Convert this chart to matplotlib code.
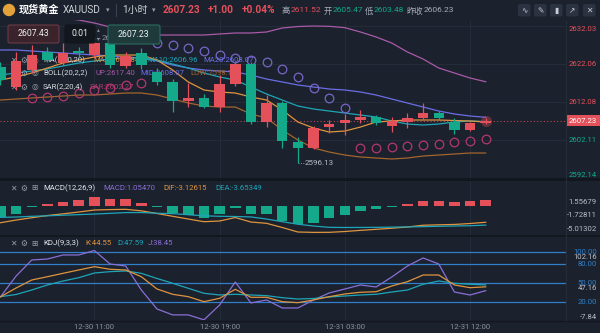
import numpy as np
import matplotlib
matplotlib.use('Agg')
import matplotlib.pyplot as plt
from matplotlib.patches import FancyBboxPatch, Circle
from matplotlib.lines import Line2D
from matplotlib.transforms import Affine2D, blended_transform_factory

# colours
BG = '#1b212d'
GRID = '#252c39'
RED = '#e5515b'
GREEN = '#14a98b'
ORANGE = '#df943f'
TEAL = '#1fa5b8'
BLUE = '#6a6ee6'
PINK = '#a85aa8'
BROWN = '#a3652f'
SAR_UP = '#7766c6'
SAR_DN = '#b2386f'
PURPLE = '#8a6fd6'
LVL = '#2f80c8'
TXT = '#b9bec7'
DIM = '#8d939c'

plt.rcParams['font.family'] = ['Roboto', 'Noto Sans CJK SC', 'DejaVu Sans']
plt.rcParams['axes.unicode_minus'] = False
SYM = ['DejaVu Sans']

# ---- data (1h candles, 12-30 ~05:00 .. 12-31 13:00) ----
time_labels = ['12-30 11:00', '12-30 19:00', '12-31 03:00', '12-31 12:00']
time_idx = [6, 14, 22, 30]

opens = [2621.27, 2616.02, 2620.49, 2625.21, 2622.32, 2625.47, 2624.42, 2627.57,
         2621.54, 2624.95, 2619.96, 2617.34, 2612.35, 2613.14, 2610.77, 2616.81,
         2622.06, 2606.84, 2611.82, 2601.59, 2600.01, 2605.52, 2606.57, 2607.36,
         2608.15, 2605.79, 2606.84, 2607.89, 2609.20, 2606.84, 2604.74, 2606.57]
closes = [2617.86, 2622.85, 2624.42, 2623.11, 2624.95, 2624.95, 2627.57, 2621.80,
          2624.16, 2621.80, 2617.34, 2612.35, 2613.14, 2610.77, 2616.81, 2622.06,
          2606.84, 2611.82, 2601.85, 2600.01, 2605.26, 2606.31, 2607.36, 2608.15,
          2606.57, 2607.10, 2607.89, 2609.20, 2607.89, 2604.74, 2606.57, 2607.23]
highs = [2622.59, 2625.21, 2627.05, 2626.52, 2627.57, 2626.52, 2628.84, 2628.36,
         2625.21, 2626.26, 2621.01, 2618.12, 2617.07, 2614.20, 2619.17, 2622.59,
         2622.59, 2613.92, 2612.35, 2602.90, 2605.79, 2607.36, 2608.94, 2609.99,
         2608.67, 2608.15, 2609.20, 2611.82, 2609.72, 2607.89, 2606.84, 2607.89]
lows = [2616.55, 2615.24, 2619.70, 2622.59, 2621.80, 2623.64, 2623.90, 2621.01,
        2621.01, 2620.75, 2616.55, 2609.46, 2610.77, 2610.51, 2609.46, 2616.29,
        2606.31, 2605.52, 2600.01, 2596.13, 2599.75, 2603.95, 2603.42, 2606.57,
        2606.05, 2604.21, 2605.26, 2607.36, 2607.36, 2603.69, 2604.47, 2606.31]

ma5 = [2617.86, 2618.65, 2619.70, 2621.01, 2622.32, 2623.11, 2623.90, 2624.42,
       2624.42, 2624.42, 2623.11, 2620.49, 2617.34, 2615.24, 2614.71, 2614.45,
       2613.40, 2612.61, 2609.99, 2606.84, 2605.26, 2604.21, 2604.47, 2605.52,
       2606.84, 2607.10, 2607.36, 2607.36, 2607.36, 2607.23, 2607.10, 2606.84]
ma10 = [2619.17, 2619.70, 2620.22, 2620.75, 2621.54, 2622.32, 2622.85, 2623.37,
        2623.64, 2623.64, 2623.11, 2622.06, 2621.01, 2619.70, 2618.65, 2617.86,
        2616.02, 2614.19, 2612.61, 2611.04, 2610.25, 2609.72, 2609.20, 2608.67,
        2608.15, 2607.10, 2606.31, 2606.05, 2606.31, 2606.84, 2607.10, 2606.96]
ma20 = [2625.74, 2625.74, 2625.47, 2625.21, 2624.95, 2624.69, 2624.42, 2624.16,
        2623.90, 2623.64, 2622.85, 2621.80, 2621.01, 2620.49, 2620.22, 2619.96,
        2619.17, 2618.12, 2617.34, 2616.55, 2616.02, 2615.50, 2615.24, 2614.71,
        2613.92, 2612.87, 2611.82, 2610.77, 2609.72, 2608.94, 2608.41, 2608.07]
boll_up = [2636.76, 2635.97, 2635.19, 2634.66, 2634.14, 2633.61, 2632.82, 2631.77,
           2630.46, 2629.94, 2629.67, 2629.67, 2629.67, 2629.67, 2629.94, 2630.20,
           2630.20, 2630.46, 2631.51, 2631.90, 2632.03, 2631.95, 2631.60, 2630.46,
           2629.15, 2627.57, 2625.21, 2623.37, 2621.01, 2619.70, 2618.39, 2617.40]
boll_low = [2612.61, 2612.87, 2613.14, 2613.40, 2613.66, 2613.92, 2613.92, 2614.19,
            2614.45, 2614.45, 2613.92, 2612.87, 2611.82, 2611.04, 2610.77, 2610.77,
            2608.94, 2607.89, 2604.74, 2602.11, 2600.01, 2598.96, 2598.17, 2597.65,
            2597.39, 2597.12, 2597.39, 2597.91, 2598.17, 2598.44, 2598.70, 2598.70]
nan = np.nan
sar = [nan, nan, 2613.14, 2613.40, 2613.66, 2614.45, 2615.24, 2615.76,
       2616.55, 2617.07, 2627.57, 2627.05, 2626.26, 2625.47, 2624.42, 2623.64,
       2623.11, 2622.59, 2620.75, 2618.65, 2615.76, 2613.14, 2610.51, 2600.01,
       2600.01, 2600.27, 2600.54, 2600.80, 2601.06, 2601.59, 2601.85, 2602.27]

macd_hist = [-2.11, -1.49, -0.25, 0.19, 0.62, 1.00, 1.557, 1.24, 1.18, 0.50, -0.19,
             -1.31, -1.68, -2.24, -1.62, -0.37, -1.62, -1.62, -2.86, -3.48, -3.17,
             -2.24, -1.74, -1.06, -0.56, -0.25, 0.25, 0.90, 0.93, 0.70, 0.90, 1.0547]
dif = [-3.21, -2.71, -2.28, -1.87, -1.55, -1.21, -0.84, -0.76, -0.71, -0.99, -1.49,
       -2.01, -2.52, -3.02, -2.89, -2.24, -3.08, -3.32, -4.10, -4.94, -5.01, -5.00,
       -4.85, -4.63, -4.44, -4.24, -4.01, -3.68, -3.60, -3.53, -3.36, -3.12615]
dea = [-2.20, -2.15, -2.01, -1.92, -1.81, -1.70, -1.59, -1.46, -1.32, -1.31, -1.44,
       -1.51, -1.72, -1.92, -2.01, -2.05, -2.13, -2.52, -3.02, -3.49, -3.82, -4.07,
       -4.10, -4.09, -4.07, -4.03, -3.99, -3.94, -3.88, -3.82, -3.77, -3.65349]

k_line = [28.7, 42.7, 55.4, 60.6, 66.0, 71.3, 76.5, 72.4, 71.3, 60.6, 41.1, 32.7,
          28.9, 21.0, 26.3, 40.6, 27.9, 27.9, 21.0, 19.4, 23.7, 28.9, 33.2, 35.9,
          36.8, 45.9, 52.7, 63.3, 63.3, 47.5, 43.2, 44.55]
d_line = [28.9, 32.4, 39.5, 47.5, 53.8, 59.0, 66.5, 68.6, 69.7, 66.0, 57.8, 50.2,
          42.2, 34.3, 31.6, 32.7, 31.6, 30.5, 27.3, 25.2, 26.0, 28.4, 30.0, 31.6,
          32.7, 36.3, 39.5, 48.6, 53.8, 50.2, 48.6, 47.59]
j_line = [28.7, 61.7, 87.1, 88.7, 95.1, 95.1, 102.16, 80.8, 77.6, 39.5, 9.4, 0.0,
          0.0, -7.84, 15.7, 52.2, 18.9, 23.7, 11.0, 11.0, 23.7, 34.8, 41.1, 47.5,
          44.3, 60.2, 77.6, 90.3, 80.8, 36.3, 31.6, 38.45]

price_ticks = [2632.03, 2622.06, 2612.08, 2602.11, 2592.14]
last_price = 2607.23
macd_ticks = [1.55679, -1.72811, -5.01302]
kdj_levels = [100, 80, 50, 20]
kdj_ticks = [102.16, 47.16, -7.84]

# ---- figure ----
W, H = 600, 333
fig = plt.figure(figsize=(6, 3.33), dpi=100, facecolor=BG)
px = Affine2D().scale(1 / W, -1 / H).translate(0, 1) + fig.transFigure

x = np.arange(len(opens))
opens, closes = np.array(opens), np.array(closes)
highs, lows = np.array(highs), np.array(lows)

ax = fig.add_axes([0, 155 / H, 566 / W, 158 / H])
ax_m = fig.add_axes([0, 98 / H, 566 / W, 55 / H])
ax_k = fig.add_axes([0, 13 / H, 566 / W, 84 / H])
for a in (ax, ax_m, ax_k):
    a.set_facecolor(BG)
    a.set_xlim(-0.03, 36.13)
    for s in a.spines.values():
        s.set_visible(False)
    a.set_xticks([])
    a.set_yticks([])
    for t in time_idx:
        a.axvline(t, color=GRID, lw=0.8, zorder=0)


def right_labels(a, vals, texts, colors, vas, dys=None):
    # labels right-aligned at x=597px; dys = extra downward shift in pixels
    if dys is None:
        dys = [0] * len(vals)
    for v, s, c, va, dy in zip(vals, texts, colors, vas, dys):
        tr = blended_transform_factory(a.transAxes, a.transData) + Affine2D().translate(0, -dy)
        a.text(597 / 566, v, s, transform=tr, ha='right', va=va, color=c,
               fontsize=5.6, clip_on=False)


# main price panel
ax.set_ylim(2592.14, 2633.61)
for v in price_ticks:
    ax.axhline(v, color=GRID, lw=0.8, zorder=0)
col = np.where(closes >= opens, RED, GREEN)
ax.vlines(x, lows, highs, colors=col, lw=0.9, zorder=5)
body_lo = np.minimum(opens, closes)
body_h = np.maximum(np.abs(closes - opens), 0.25)
ax.bar(x, body_h, bottom=body_lo, width=0.67, color=col, zorder=6)

ax.plot(x, boll_up, color=PINK, lw=0.9, zorder=3)
ax.plot(x, boll_low, color=BROWN, lw=0.9, zorder=3)
ax.plot(x, ma20, color=BLUE, lw=0.9, zorder=3)
ax.plot(x, ma10, color=TEAL, lw=0.9, zorder=3)
ax.plot(x, ma5, color=ORANGE, lw=0.9, zorder=3)

sar = np.array(sar)
above = sar > closes
below = sar < closes
ax.plot(x[above], sar[above], 'o', ms=6.2, mfc='none', mec=SAR_UP, mew=0.9, zorder=4)
ax.plot(x[below], sar[below], 'o', ms=6.2, mfc='none', mec=SAR_DN, mew=0.9, zorder=4)

ax.axhline(last_price, color=RED, lw=0.8, ls=(0, (1, 2)), alpha=0.8, zorder=2)
ax.plot(x[-1], closes[-1], 'o', ms=8, color=RED, alpha=0.35, mec='none', zorder=7)

# high / low markers
hi = int(np.argmax(highs))
lo = int(np.argmin(lows))
ax.plot([hi, hi + 0.4], [highs[hi]] * 2, color=DIM, lw=0.7, ls=(0, (1, 1.5)), zorder=2)
ax.text(hi + 0.45, highs[hi], f'{highs[hi]:.2f}', color=DIM, fontsize=5.8, va='center', zorder=2)
ax.plot([lo, lo + 0.4], [lows[lo]] * 2, color=DIM, lw=0.7, ls=(0, (1, 1.5)), zorder=2)
ax.text(lo + 0.45, lows[lo], f'{lows[lo]:.2f}', color=TXT, fontsize=5.8, va='center', zorder=2)

pcol = [RED if v > last_price else GREEN for v in price_ticks]
right_labels(ax, price_ticks, [f'{v:.2f}' for v in price_ticks], pcol,
             ['top', 'center', 'center', 'center', 'bottom'])
ax.text(597 / 566, last_price, f'{last_price:.2f}', color='white', fontsize=5.6,
        ha='right', va='center', clip_on=False, zorder=8,
        transform=blended_transform_factory(ax.transAxes, ax.transData),
        bbox=dict(boxstyle='square,pad=0.35', fc=RED, ec='none'))

# legend rows on the main panel (under the candles)
def row(a, y, icons, items, z=4.5):
    for ix, g in zip([13, 24, 35], icons):
        a.text(ix, y, g, transform=px, color='#9aa0aa', fontsize=5.6, ha='center',
               va='center', family=SYM, zorder=z)
    for ix, s, c in items:
        a.text(ix, y, s, transform=px, color=c, fontsize=5.6, va='center', zorder=z)

row(ax, 60, ['✕', '⚙', '◎'], [(43, 'MA(5,10,20)', '#d6d9de'), (93, 'MA5:2606.84', ORANGE),
                               (147, 'MA10:2606.96', TEAL), (203, 'MA20:2608.07', BLUE)])
row(ax, 73, ['✕', '⚙', '◎'], [(43, 'BOLL(20,2,2)', '#d6d9de'), (95, 'UP:2617.40', PINK),
                               (140, 'MID:2608.07', BLUE), (190, 'LOW:2598.70', BROWN)])
row(ax, 87, ['✕', '⚙', '◎'], [(43, 'SAR(2,20,4)', '#d6d9de'), (90, 'SAR:2602.27', SAR_DN)])

# MACD panel
ax_m.set_ylim(-5.50, 4.76)
hcol = [RED if v >= 0 else GREEN for v in macd_hist]
ax_m.bar(x, macd_hist, width=0.67, color=hcol, zorder=3)
ax_m.plot(x, dif, color=ORANGE, lw=0.9, zorder=4)
ax_m.plot(x, dea, color=TEAL, lw=0.9, zorder=4)
right_labels(ax_m, macd_ticks, [f'{v:.5f}' for v in macd_ticks], [TXT] * 3,
             ['top', 'center', 'bottom'], [2, 0, 0])
row(ax_m, 188, ['✕', '⚙', '⊞'], [(43, 'MACD(12,26,9)', '#e6e8ec'), (103, 'MACD:1.05470', PURPLE),
                                  (163, 'DIF:-3.12615', ORANGE), (215, 'DEA:-3.65349', TEAL)])

# KDJ panel
ax_k.set_ylim(-8.1, 125.2)
for v in kdj_levels:
    ax_k.axhline(v, color=LVL, lw=0.9, zorder=1)
ax_k.plot(x, j_line, color=PURPLE, lw=0.9, zorder=3)
ax_k.plot(x, d_line, color=TEAL, lw=0.9, zorder=3)
ax_k.plot(x, k_line, color=ORANGE, lw=0.9, zorder=3)
right_labels(ax_k, kdj_ticks, [f'{v:.2f}' for v in kdj_ticks], [TXT] * 3,
             ['top', 'center', 'bottom'], [3, 3, 0])
right_labels(ax_k, kdj_levels, [f'{v:.2f}' for v in kdj_levels], [LVL] * 4, ['center'] * 4)
row(ax_k, 243, ['✕', '⚙', '⊞'], [(43, 'KDJ(9,3,3)', '#e6e8ec'), (85, 'K:44.55', ORANGE),
                                  (117, 'D:47.59', TEAL), (148, 'J:38.45', PURPLE)])
tr_k = blended_transform_factory(ax_k.transData, ax_k.transAxes)
for t, s in zip(time_idx, time_labels):
    ax_k.text(t, -0.08, s, transform=tr_k, color=DIM, fontsize=5.5, ha='center',
              va='center', clip_on=False)

# panel separators
for yy, lw in [(179, 2.0), (235.5, 1.2), (320.5, 1.0)]:
    fig.add_artist(Line2D([0, 600], [yy, yy], transform=px, color='#12161e', lw=lw))
fig.add_artist(Line2D([566, 566], [20, 320], transform=px, color='#262c38', lw=0.8))

# header
fig.add_artist(Circle((9, 10), 5.5, transform=px, color='#e3a33a'))
fig.text(19, 10, '现货黄金', transform=px, color='white', fontsize=7.3, weight='bold', va='center')
fig.text(63, 10, 'XAUUSD', transform=px, color='#d0d3d8', fontsize=7.2, va='center')
fig.text(106, 10, '▾', transform=px, color='#9aa0aa', fontsize=5, va='center', family=SYM)
fig.add_artist(Line2D([116, 116], [4, 16], transform=px, color='#3a4150', lw=0.8))
fig.text(122, 10, '1小时', transform=px, color='#d0d3d8', fontsize=7.2, va='center')
fig.text(152, 10, '▾', transform=px, color='#9aa0aa', fontsize=5, va='center', family=SYM)
fig.text(163, 10, '2607.23', transform=px, color=RED, fontsize=7.3, weight='bold', va='center')
fig.text(208, 10, '+1.00', transform=px, color=RED, fontsize=7.3, weight='bold', va='center')
fig.text(242, 10, '+0.04%', transform=px, color=RED, fontsize=7.3, weight='bold', va='center')
for ix, s, c in [(281, '高', '#aab0ba'), (291, '2611.52', RED), (324, '开', '#aab0ba'),
                 (333, '2605.47', GREEN), (365, '低', '#aab0ba'), (374, '2603.48', GREEN),
                 (406, '昨收', '#aab0ba'), (424, '2606.23', '#aab0ba')]:
    fig.text(ix, 10.5, s, transform=px, color=c, fontsize=6, va='center')
for ix, g in zip([518, 534, 550, 566, 583], ['∿', '✎', '▮', '↗', '✕']):
    fig.add_artist(FancyBboxPatch((ix, 4), 12.5, 12.5, transform=px, fc='#2b3342', ec='none',
                                  boxstyle='round,pad=0,rounding_size=2'))
    fig.text(ix + 6.25, 10.5, g, transform=px, color='#c8ccd4', fontsize=5.5, ha='center',
             va='center', family=SYM)

# order widget boxes over the main panel
for (bx, by, bw, bh, fc, ec, s) in [(8, 25, 51, 18, '#3a232b', '#6b3a45', '2607.43'),
                                    (65, 25, 30, 18, '#12161d', '#12161d', '0.01'),
                                    (108, 25, 52, 19, '#1f3a3b', '#2c6b60', '2607.23')]:
    ax.add_patch(FancyBboxPatch((bx, by), bw, bh, transform=px, fc=fc, ec=ec, lw=0.8,
                                boxstyle='round,pad=0,rounding_size=2', zorder=9, clip_on=False))
    ax.text(bx + bw / 2, by + bh / 2, s, transform=px, color='#eceef1', fontsize=6.3,
            ha='center', va='center', zorder=10)
ax.text(98, 30, '▴', transform=px, color='#8a909a', fontsize=4, ha='center', va='center',
        family=SYM, zorder=10)
ax.text(98, 39, '▾', transform=px, color='#8a909a', fontsize=4, ha='center', va='center',
        family=SYM, zorder=10)

fig.savefig('out.png', dpi=100, facecolor=BG)
